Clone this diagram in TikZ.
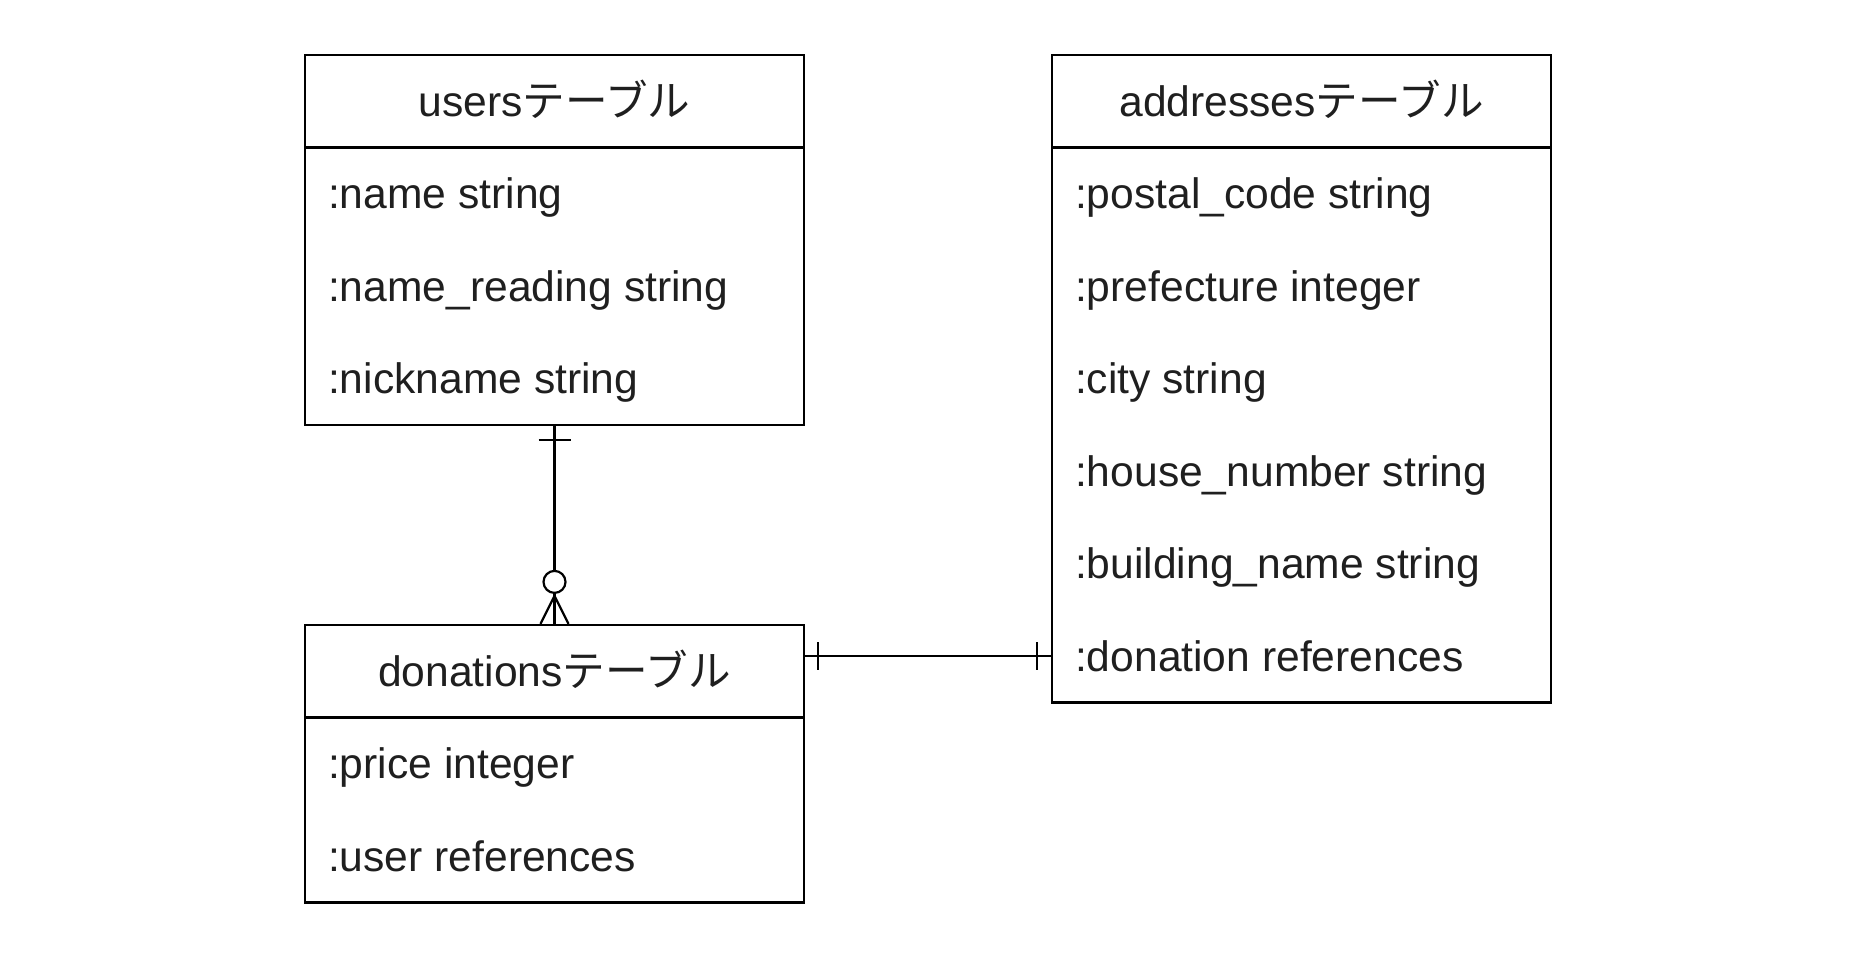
\documentclass[tikz,border=0pt]{standalone}
\usepackage{fontspec}
\setmainfont{Liberation Sans}
\newfontfamily\cjk{Noto Sans CJK JP}
\usetikzlibrary{calc}
\begin{document}
\begin{tikzpicture}[x=1pt,y=-1pt,
  line width=2.2pt,
  every node/.style={font=\fontsize{42.6}{50}\selectfont, text=black!88},
  tbl/.style={draw, minimum width=499pt, inner sep=0pt},
  hdr/.style={draw, minimum width=499pt, minimum height=92.5pt, inner sep=0pt, text height=30pt, text depth=0pt, anchor=north},
  rowtxt/.style={anchor=west, inner sep=0pt, text height=30pt, text depth=0pt},
  conn/.style={line width=2.2pt}]
\useasboundingbox (0,0) rectangle (1856,968);
% users table
\node[tbl, minimum height=370pt] (users) at (554.5,240) {};
\node[hdr] (usersH) at (users.north) {users{\cjk テーブル}};
\node[rowtxt] (u1) at (327,193.75) {:name string};
\node[rowtxt] (u2) at (327,286.25) {:name\_reading string};
\node[rowtxt] (u3) at (327,378.75) {:nickname string};
% donations table
\node[tbl, minimum height=277.5pt] (don) at (554.5,763.75) {};
\node[hdr] (donH) at (don.north) {donations{\cjk テーブル}};
\node[rowtxt] (d1) at (327,763.75) {:price integer};
\node[rowtxt] (d2) at (327,856.25) {:user references};
% addresses table
\node[tbl, minimum height=647.5pt] (addr) at (1301.5,378.75) {};
\node[hdr] (addrH) at (addr.north) {addresses{\cjk テーブル}};
\node[rowtxt] (a1) at (1074,193.75) {:postal\_code string};
\node[rowtxt] (a2) at (1074,286.25) {:prefecture integer};
\node[rowtxt] (a3) at (1074,378.75) {:city string};
\node[rowtxt] (a4) at (1074,471.25) {:house\_number string};
\node[rowtxt] (a5) at (1074,563.75) {:building\_name string};
\node[rowtxt] (a6) at (1074,656.25) {:donation references};
% users -- donations (one to zero-or-many)
\draw[conn] (users.south) -- (donH.north);
\draw[conn] ($(users.south)+(-16,14)$) -- ++(32,0);
\draw[conn] ($(donH.north)+(-14,0)$) -- ($(donH.north)+(0,-28)$) -- ($(donH.north)+(14,0)$);
\draw[conn, fill=white] ($(donH.north)+(0,-42)$) circle[radius=11pt];
% donations -- addresses (one to one)
\draw[conn] (don.east |- a6.west) -- (addr.west |- a6.west);
\draw[conn] ($(don.east |- a6.west)+(13,-14)$) -- ++(0,28);
\draw[conn] ($(addr.west |- a6.west)+(-14,-14)$) -- ++(0,28);
\end{tikzpicture}
\end{document}
